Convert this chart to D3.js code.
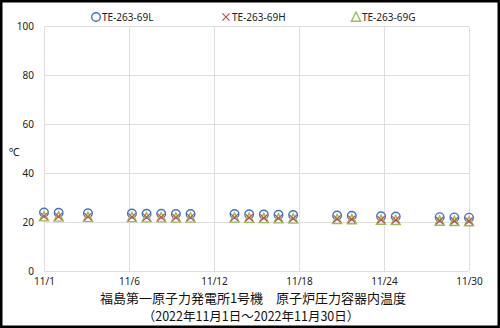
<!DOCTYPE html>
<html><head><meta charset="utf-8">
<script src="https://cdn.jsdelivr.net/npm/d3@7/dist/d3.min.js"></script>
<style>body{margin:0;background:#fff}svg{display:block}</style>
</head><body>
<svg id="c" width="500" height="328"></svg>
<script>
const days = [1,2,4,7,8,9,10,11,14,15,16,17,18,21,22,24,25,28,29,30];
const seriesNames = ["TE-263-69L","TE-263-69H","TE-263-69G"];
const valuesL = [23.9,23.8,23.6,23.5,23.4,23.4,23.3,23.3,23.3,23.2,23.1,23.0,22.9,22.7,22.6,22.4,22.3,22.0,21.9,21.8];
const valuesH = [22.4,22.3,22.2,22.1,22.0,22.0,21.9,21.9,21.9,21.8,21.7,21.6,21.5,21.3,21.2,21.0,20.9,20.6,20.5,20.4];
const valuesG = [22.0,21.9,21.8,21.7,21.6,21.6,21.5,21.5,21.5,21.4,21.3,21.2,21.1,20.9,20.8,20.6,20.5,20.2,20.1,20.0];
const yTicks = [0,20,40,60,80,100];
const xTickLabels = ["11/1","11/6","11/12","11/18","11/24","11/30"];
const title = "福島第一原子力発電所1号機　原子炉圧力容器内温度";
const subtitle = "（2022年11月1日～2022年11月30日）";
const yUnit = "℃";

const svg = d3.select("#c");
const W = 500, H = 328;
const x = d3.scaleLinear().domain([1,30]).range([44,469]);
const y = d3.scaleLinear().domain([0,100]).range([271,26.5]);
const font = "'Noto Sans', 'Noto Sans CJK JP', sans-serif";

svg.append("rect").attr("x",0).attr("y",0).attr("width",W).attr("height",H).attr("fill","#fff");

// gridlines
const xTickVals = xTickLabels.map((d,i)=>1+i*29/5);
svg.append("g").selectAll("line").data(yTicks).join("line")
  .attr("x1",x(1)).attr("x2",x(30)).attr("y1",d=>y(d)).attr("y2",d=>y(d))
  .attr("stroke","#dedede").attr("stroke-width",1).attr("shape-rendering","crispEdges");
svg.append("g").selectAll("line").data(xTickVals).join("line")
  .attr("x1",d=>x(d)).attr("x2",d=>x(d)).attr("y1",y(0)).attr("y2",y(100))
  .attr("stroke","#dedede").attr("stroke-width",1).attr("shape-rendering","crispEdges");

// y axis labels
const yAxis = d3.axisLeft(y).tickValues(yTicks).tickSize(0).tickPadding(10);
const gy = svg.append("g").attr("transform",`translate(${x(1)},0)`).call(yAxis);
gy.select(".domain").remove();
gy.selectAll("text").attr("font-family",font).attr("font-size",10).attr("fill","#222");

// x axis labels
const xAxis = d3.axisBottom(x).tickValues(xTickVals).tickFormat((d,i)=>xTickLabels[i]).tickSize(0).tickPadding(7);
const gx = svg.append("g").attr("transform",`translate(0,${y(0)})`).call(xAxis);
gx.select(".domain").remove();
gx.selectAll("text").attr("font-family",font).attr("font-size",10).attr("fill","#222");

// unit
svg.append("text").attr("x",9).attr("y",156).text(yUnit)
  .attr("font-family",font).attr("font-size",11).attr("fill","#222");

const colL = "#4472C4", colH = "#C0504D", colG = "#9BBB59";
function circ(g,cx,cy){g.append("circle").attr("cx",cx).attr("cy",cy).attr("r",4.3).attr("fill","none").attr("stroke",colL).attr("stroke-width",1.4);}
function cross(g,cx,cy){const s=3.6;g.append("path").attr("d",`M${cx-s},${cy-s}L${cx+s},${cy+s}M${cx-s},${cy+s}L${cx+s},${cy-s}`).attr("stroke",colH).attr("stroke-width",1.2).attr("fill","none");}
function tri(g,cx,cy){const s=4.6;g.append("path").attr("d",`M${cx},${cy-s*1.2}L${cx+s},${cy+s*0.8}L${cx-s},${cy+s*0.8}Z`).attr("stroke",colG).attr("stroke-width",1.4).attr("fill","none");}

const gm = svg.append("g");
days.forEach((d,i)=>circ(gm,x(d),y(valuesL[i])));
days.forEach((d,i)=>tri(gm,x(d),y(valuesG[i])));
days.forEach((d,i)=>cross(gm,x(d),y(valuesH[i])));

// legend
const legX = [96,226,356], legY = 17;
const gl = svg.append("g");
circ(gl,legX[0],legY); cross(gl,legX[1],legY); tri(gl,legX[2],legY+0.5);
seriesNames.forEach((n,i)=>gl.append("text").attr("x",legX[i]+6).attr("y",legY+3.5).text(n)
  .attr("font-family",font).attr("font-size",10).attr("fill","#222"));

// titles
svg.append("text").attr("x",253).attr("y",303).attr("text-anchor","middle").text(title)
  .attr("font-family","'Noto Sans CJK JP', sans-serif").attr("font-size",13).attr("fill","#111");
svg.append("text").attr("x",251).attr("y",321).attr("text-anchor","middle").text(subtitle)
  .attr("font-family","'Noto Sans CJK JP', sans-serif").attr("font-size",12.5).attr("fill","#111");

// frame
svg.append("rect").attr("x",1.25).attr("y",1.25).attr("width",W-2.5).attr("height",H-2.5)
  .attr("fill","none").attr("stroke","#000").attr("stroke-width",2.5);
</script>
</body></html>
